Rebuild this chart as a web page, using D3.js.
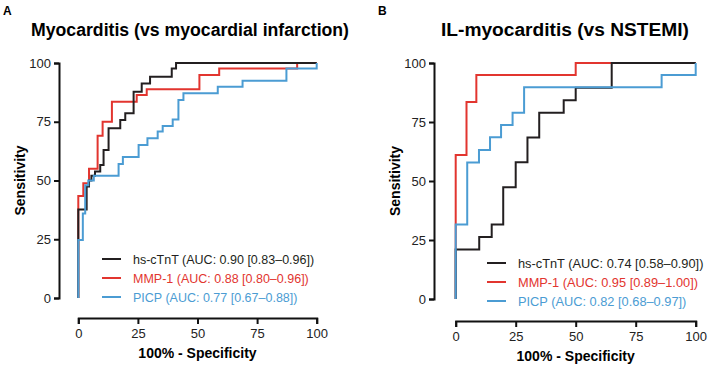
<!DOCTYPE html>
<html>
<head>
<meta charset="utf-8">
<script src="https://cdn.jsdelivr.net/npm/d3@7"></script>
<style>
  body { margin: 0; background: #fff; }
  svg { display: block; font-family: "Liberation Sans", Arial, sans-serif; }
</style>
</head>
<body>
<div id="chart"></div>
<script>
// ROC data: [100% - specificity, sensitivity] corner points (step-before)
var ticks = [0, 25, 50, 75, 100];

// Panel A: myocarditis vs myocardial infarction
var aHsSpec  = [0, 3.5, 4.5, 5.5, 7, 9.2, 10.6, 12.7, 17.6, 19.7, 23.2, 26.6, 30.1, 39.2, 41, 100];
var aHsSens  = [0, 37.7, 47.4, 50, 52, 53.8, 56.6, 63, 72.2, 75.7, 78.6, 87.8, 91.3, 94.2, 97.7, 100];
var aMmpSpec = [0, 2.1, 4.5, 8.1, 10.2, 14.1, 24.5, 28.7, 50.8, 59.1, 91.8, 100];
var aMmpSens = [0, 43.4, 48.8, 55, 69, 75, 83.5, 86.4, 88.8, 94.9, 97.7, 100];
var aPicpSpec = [0, 1.9, 2.9, 4.2, 6.5, 16.9, 18.7, 25.3, 29, 33.3, 35.4, 39.6, 42, 44.1, 58.5, 68.9, 87.3, 100, 100];
var aPicpSens = [0, 24.7, 36, 48, 50, 52, 57, 60, 65.1, 68, 70.8, 73.2, 76, 84.3, 87.1, 89.9, 92.5, 97.7, 100];

// Panel B: IL-myocarditis vs NSTEMI
var bHsSpec  = [0, 9.8, 15, 19.8, 25, 29.9, 34.8, 45, 50, 65, 100];
var bHsSens  = [0, 21, 26.3, 31.6, 47.4, 57.9, 68.4, 78.9, 84.2, 89.5, 100];
var bMmpSpec = [0, 4.5, 8.6, 50, 100];
var bMmpSens = [0, 61, 83.5, 94.9, 100];
var bPicpSpec = [0, 4.8, 9.7, 14.3, 18.9, 23.7, 28.5, 85.8, 100, 100];
var bPicpSens = [0, 31.6, 57.8, 63.1, 68.5, 73.7, 78.9, 89.7, 94.9, 100];

var aLabels = ["hs-cTnT (AUC: 0.90 [0.83\u20130.96])", "MMP-1 (AUC: 0.88 [0.80\u20130.96])", "PICP (AUC: 0.77 [0.67\u20130.88])"];
var bLabels = ["hs-cTnT (AUC: 0.74 [0.58\u20130.90])", "MMP-1 (AUC: 0.95 [0.89\u20131.00])", "PICP (AUC: 0.82 [0.68\u20130.97])"];

var colors = ["#231f20", "#e2352f", "#4b9cd3"];

var svg = d3.select("#chart").append("svg")
    .attr("width", 709)
    .attr("height", 368);

function zip(xs, ys) {
    return xs.map(function (x, i) { return [x, ys[i]]; });
}

function drawPanel(p) {
    var x = d3.scaleLinear().domain([0, 100]).range(p.xr);
    var y = d3.scaleLinear().domain([0, 100]).range(p.yr);

    // panel letter + title
    svg.append("text").attr("x", p.letterX).attr("y", 15)
        .attr("font-weight", "bold").attr("font-size", 12).text(p.letter);
    svg.append("text").attr("x", p.titleX).attr("y", 36)
        .attr("text-anchor", "middle")
        .attr("font-weight", "bold").attr("font-size", 18)
        .attr("textLength", p.titleW).attr("lengthAdjust", "spacingAndGlyphs")
        .text(p.title);

    // axes, offset from the plot like Prism does
    var xa = svg.append("g").attr("transform", "translate(0," + p.xAxisY + ")")
        .call(d3.axisBottom(x).tickValues(ticks).tickSizeOuter(0).tickSize(6).tickPadding(5));
    var ya = svg.append("g").attr("transform", "translate(" + p.yAxisX + ",0)")
        .call(d3.axisLeft(y).tickValues(ticks).tickSizeOuter(0).tickSize(5).tickPadding(3));
    [xa, ya].forEach(function (a) {
        a.select(".domain").attr("stroke", "#111").attr("stroke-width", 2);
        a.selectAll(".tick line").attr("stroke", "#111").attr("stroke-width", 2);
        a.selectAll(".tick text").attr("font-size", 13).attr("fill", "#222")
            .attr("font-family", "Liberation Sans, Arial, sans-serif");
    });

    svg.append("text")
        .attr("x", (p.xr[0] + p.xr[1]) / 2).attr("y", p.xAxisY + 40)
        .attr("text-anchor", "middle").attr("font-weight", "bold").attr("font-size", 14)
        .text("100% - Specificity");
    svg.append("text")
        .attr("transform", "translate(" + (p.yAxisX - 34) + "," + ((p.yr[0] + p.yr[1]) / 2) + ") rotate(-90)")
        .attr("text-anchor", "middle").attr("font-weight", "bold").attr("font-size", 14)
        .text("Sensitivity");

    var line = d3.line()
        .x(function (d) { return x(d[0]); })
        .y(function (d) { return y(d[1]); })
        .curve(d3.curveStepBefore);

    // draw order: red, black, blue
    [1, 0, 2].forEach(function (i) {
        svg.append("path")
            .datum(p.curves[i])
            .attr("d", line)
            .attr("fill", "none")
            .attr("stroke", colors[i])
            .attr("stroke-width", 2);
    });

    // legend
    p.labels.forEach(function (lab, i) {
        var ly = p.legY + i * 19;
        svg.append("line")
            .attr("x1", p.legX).attr("x2", p.legX + 19)
            .attr("y1", ly).attr("y2", ly)
            .attr("stroke", colors[i]).attr("stroke-width", 2);
        svg.append("text")
            .attr("x", p.legX + 31).attr("y", ly + 4.5)
            .attr("font-size", p.legFont).attr("fill", colors[i])
            .text(lab);
    });
}

drawPanel({
    letter: "A", letterX: 3,
    title: "Myocarditis (vs myocardial infarction)", titleX: 190, titleW: 318,
    xr: [78.3, 316.7], yr: [298, 63], xAxisY: 318, yAxisX: 59,
    curves: [zip(aHsSpec, aHsSens), zip(aMmpSpec, aMmpSens), zip(aPicpSpec, aPicpSens)],
    labels: aLabels, legX: 102, legY: 259, legFont: 12.5
});

drawPanel({
    letter: "B", letterX: 378,
    title: "IL-myocarditis (vs NSTEMI)", titleX: 565, titleW: 248,
    xr: [455.7, 695.7], yr: [299, 63], xAxisY: 321, yAxisX: 434,
    curves: [zip(bHsSpec, bHsSens), zip(bMmpSpec, bMmpSens), zip(bPicpSpec, bPicpSens)],
    labels: bLabels, legX: 487, legY: 263, legFont: 12.8
});
</script>
</body>
</html>
